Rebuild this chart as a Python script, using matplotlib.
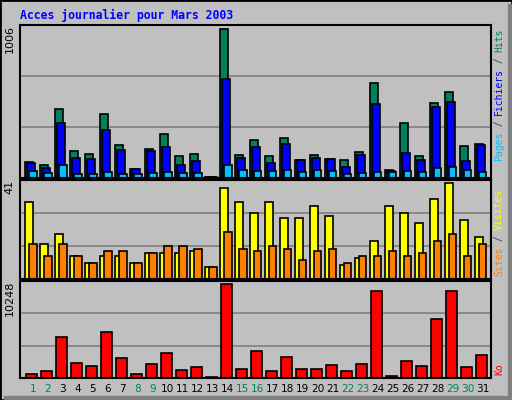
import matplotlib
matplotlib.use("Agg")
import matplotlib.pyplot as plt
from matplotlib.patches import Rectangle
import numpy as np

days = list(range(1, 32))
hits = [109, 88, 469, 184, 163, 435, 224, 61, 197, 299, 150, 163, 5, 1006, 156, 258,
        150, 272, 122, 156, 129, 122, 177, 646, 54, 374, 150, 510, 585, 218, 231]
files = [102, 68, 374, 136, 129, 326, 190, 61, 184, 211, 88, 116, 5, 673, 136, 211,
         102, 231, 122, 136, 129, 75, 156, 503, 48, 170, 122, 483, 517, 116, 224]
pages = [48, 34, 88, 27, 27, 41, 27, 27, 34, 41, 34, 34, 5, 88, 54, 48,
         48, 54, 41, 54, 48, 27, 34, 41, 41, 48, 41, 68, 75, 54, 41]
visits = [33, 15, 19, 10, 7, 10, 10, 7, 11, 11, 11, 12, 5, 39, 33, 28,
          33, 26, 26, 31, 27, 6, 9, 16, 31, 28, 24, 34, 41, 25, 18]
sites = [15, 10, 15, 10, 7, 12, 12, 7, 11, 14, 14, 13, 5, 20, 13, 12,
         14, 13, 8, 12, 13, 7, 10, 10, 12, 10, 11, 16, 19, 10, 15]
ko = [486, 711, 4451, 1608, 1272, 4974, 2169, 486, 1496, 2730, 823, 1159, 150, 10248, 935, 2955,
      711, 2281, 935, 935, 1384, 711, 1496, 9463, 262, 1833, 1272, 6433, 9463, 1159, 2506]
weekend = [1, 2, 8, 9, 15, 16, 22, 23, 29, 30]
title = "Acces journalier pour Mars 2003"

BG = "#c0c0c0"
C_HITS, C_FILES, C_PAGES = "#00805c", "#0000ff", "#00c0ff"
C_VIS, C_SITES, C_KO = "#ffff00", "#ff8000", "#ff0000"

W, H = 512, 400
fig = plt.figure(figsize=(W/100, H/100), dpi=100, facecolor=BG)

def ax_px(x0, y0, x1, y1):
    return fig.add_axes([x0/W, 1-y1/H, (x1-x0)/W, (y1-y0)/H])

x = np.array(days) - 1 + 0.33
XL = (0, 31.4)

def style(ax, ymax, label):
    ax.set_facecolor(BG)
    ax.set_xlim(*XL)
    top = ymax * 1.03
    ax.set_ylim(0, top)
    for f in (1/3, 2/3):
        ax.axhline(top*f, color="#808080", lw=1.2, zorder=0)
    ax.set_yticks([])
    ax.set_xticks([])
    for s in ax.spines.values():
        s.set_color("black"); s.set_linewidth(1.5)
    ax.text(-0.012, 1.0, label, transform=ax.transAxes, rotation=90,
            ha="right", va="top", fontsize=8, family="DejaVu Sans")

kw = dict(align="edge", edgecolor="black", linewidth=1.2)
a1 = ax_px(20, 25, 491, 178)
style(a1, max(hits), str(max(hits)))
a1.bar(x, hits, width=0.53, color=C_HITS, **kw)
a1.bar(x+0.15, files, width=0.5, color=C_FILES, **kw)
a1.bar(x+0.29, pages, width=0.48, color=C_PAGES, **kw)

a2 = ax_px(20, 180, 491, 279)
style(a2, max(visits), str(max(visits)))
a2.bar(x, visits, width=0.55, color=C_VIS, **kw)
a2.bar(x+0.29, sites, width=0.48, color=C_SITES, **kw)

a3 = ax_px(20, 281, 491, 378)
style(a3, max(ko), str(max(ko)))
a3.bar(x+0.07, ko, width=0.71, color=C_KO, **kw)
a3.set_xticks(x + 0.53)
a3.set_xticklabels([str(d) for d in days], fontsize=7.6)
a3.tick_params(axis="x", length=0, pad=4)
for lbl, d in zip(a3.get_xticklabels(), days):
    lbl.set_color("#008060" if d in weekend else "black")

fig.text(20/W, 1-15/H, title, fontsize=8.3, fontweight="bold",
         family="DejaVu Sans Mono", color="#0000ff", va="center", ha="left")

def vlabel(x_px, y_bottom_px, pieces, cw=5.75):
    y = y_bottom_px
    for txt, col in pieces:
        fig.text(x_px/W, 1-y/H, txt, rotation=90, rotation_mode="anchor",
                 ha="left", va="center", fontsize=7, family="DejaVu Sans Mono",
                 color=col)
        y -= len(txt)*cw

vlabel(499, 161, [("Pages", C_PAGES), (" / ", "#404040"), ("Fichiers", C_FILES),
                  (" / ", "#404040"), ("Hits", C_HITS)])
vlabel(499, 276, [("Sites", C_SITES), (" / ", "#404040"), ("Visites", C_VIS)])
vlabel(499, 375, [("Ko", C_KO)])

fig.patches.append(Rectangle((0, 0), 1, 1, transform=fig.transFigure, fill=False,
                             edgecolor="black", linewidth=2))
fig.patches.append(Rectangle((508/W, 0), 4/W, 1-4/H, transform=fig.transFigure,
                             color="#808080"))
fig.patches.append(Rectangle((4/W, 0), 1, 4/H, transform=fig.transFigure,
                             color="#808080"))

fig.savefig("out.png", dpi=100, facecolor=BG)
